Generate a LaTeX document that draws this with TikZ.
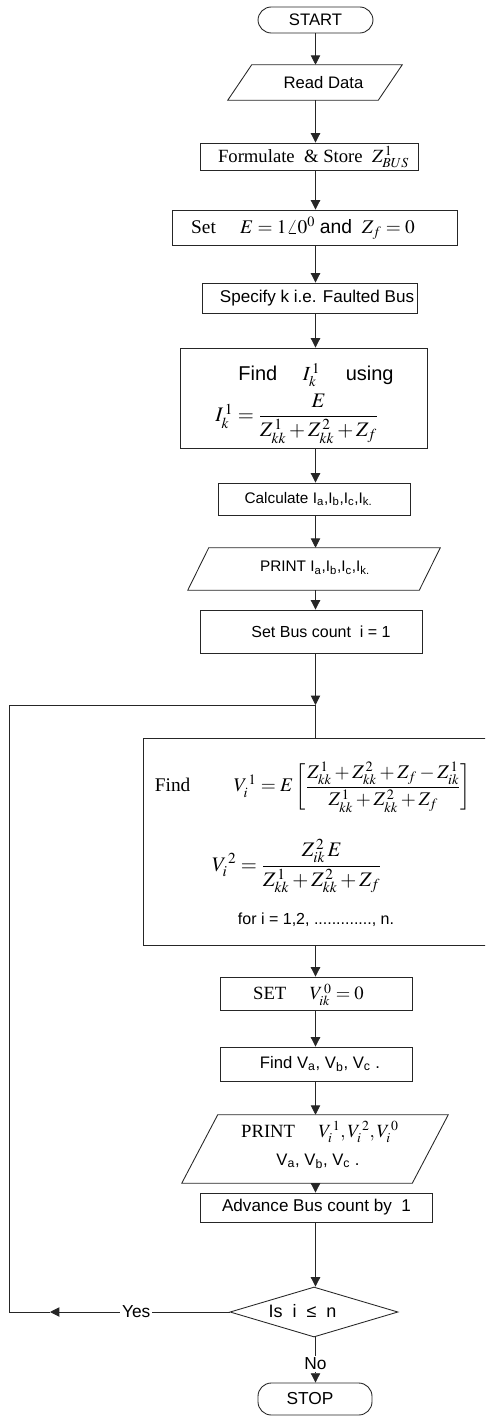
\documentclass[tikz,border=0pt]{standalone}
\usepackage{amsmath}
\usepackage{mathptmx}
\usepackage{fontspec}
\setmainfont{Liberation Serif}
\setsansfont{Liberation Sans}
\usetikzlibrary{arrows.meta,shapes.geometric}
\newcommand\pxu{0.75pt}
\newcommand\iopath[2]{\draw[ln] ([xshift=#2*\pxu]#1.north west) -- (#1.north east) -- ([xshift=-#2*\pxu]#1.south east) -- (#1.south west) -- cycle;}
\tikzset{
  ln/.style={line width=0.65pt, draw=black!85},
  box/.style={ln, rectangle, inner sep=0pt},
  term/.style={ln, rectangle, rounded corners=10pt, inner sep=0pt},
  io/.style={rectangle, inner sep=0pt},
  dia/.style={ln, diamond, inner sep=0pt, aspect=3.4},
  txt/.style={inner sep=0pt, align=center},
  sf/.style={font=\sffamily\fontsize{#1}{#1}\selectfont},
  rm/.style={font=\rmfamily\fontsize{#1}{#1}\selectfont},
  arr/.style={ln, -{Triangle[length=7pt,width=7pt]}},
  lbl/.style={fill=white, inner sep=1.5pt, font=\sffamily\fontsize{13pt}{15pt}\selectfont},
}
\begin{document}
\begin{tikzpicture}[x=0.75pt,y=-0.75pt]
\useasboundingbox (0,0) rectangle (485,1419);
\clip (0,0) rectangle (485,1419);
% shapes
\node[term, minimum width=115*\pxu, minimum height=26*\pxu] (start) at (315.5,20) {};
\node[io, minimum width=174*\pxu, minimum height=35*\pxu] (read) at (315,82.5) {};
\iopath{read}{24}
\node[box, minimum width=218*\pxu, minimum height=27*\pxu] (form) at (309,156.5) {};
\node[box, minimum width=285*\pxu, minimum height=35*\pxu] (sete) at (314.5,227.5) {};
\node[box, minimum width=215*\pxu, minimum height=30*\pxu] (spec) at (309.5,298) {};
\node[box, minimum width=247*\pxu, minimum height=100*\pxu] (findi) at (303.5,398) {};
\node[box, minimum width=192*\pxu, minimum height=32*\pxu] (calc) at (314,499) {};
\node[io, minimum width=252*\pxu, minimum height=42*\pxu] (printi) at (314,569) {};
\iopath{printi}{21}
\node[box, minimum width=222*\pxu, minimum height=43*\pxu] (setbus) at (311,631.5) {};
\node[box, minimum width=352*\pxu, minimum height=207*\pxu] (findv) at (319,841.5) {};
\node[box, minimum width=192*\pxu, minimum height=33*\pxu] (setv) at (316,993.5) {};
\node[box, minimum width=192*\pxu, minimum height=34*\pxu] (findva) at (316,1064) {};
\node[io, minimum width=266*\pxu, minimum height=68*\pxu] (printv) at (315,1149) {};
\iopath{printv}{36}
\node[box, minimum width=232*\pxu, minimum height=29*\pxu] (adv) at (316,1207.5) {};
\node[dia, minimum width=168*\pxu, minimum height=50*\pxu] (dec) at (314,1312) {};
\node[term, minimum width=114*\pxu, minimum height=32*\pxu] (stop) at (315,1399) {};
% texts
\node[txt, sf=12.5pt] (tstart) at (315.5,20) {START};
\node[txt, sf=12.5pt] (tread) at (323.5,83) {Read Data};
\node[txt, rm=14pt] (tform) at (313.5,157) {Formulate \ \& Store \ $Z^{\,1}_{BUS}$};
\node[txt, rm=14.5pt] (tsete) at (303,228) {Set \quad $E = 1\angle 0^{0}$ {\sffamily and} \ $Z_{f} = 0$};
\node[txt, sf=12.8pt] (tspec) at (317,298) {Specify k i.e. Faulted Bus};
\node[txt, sf=15pt] (tfi1) at (316,375) {Find \quad $I^{\,1}_{k}$ \quad using};
\node[txt, rm=15.5pt] (tfi2) at (297,419) {$I^{\,1}_{k} = \dfrac{E}{Z^{\,1}_{kk} + Z^{\,2}_{kk} + Z_{f}}$};
\node[txt, sf=11.5pt] (tcalc) at (308.5,499) {Calculate I\textsubscript{a},I\textsubscript{b},I\textsubscript{c},I\textsubscript{k.}};
\node[txt, sf=11.5pt] (tprinti) at (315,568) {PRINT I\textsubscript{a},I\textsubscript{b},I\textsubscript{c},I\textsubscript{k.}};
\node[txt, sf=12pt] (tsetbus) at (321,632) {Set Bus count \ i = 1};
\node[txt, rm=14.5pt] (tfv1) at (313,787) {Find \qquad $V_{i}^{\,1} = E\left[\dfrac{Z^{\,1}_{kk} + Z^{\,2}_{kk} + Z_{f} - Z^{\,1}_{ik}}{Z^{\,1}_{kk} + Z^{\,2}_{kk} + Z_{f}}\right]$};
\node[txt, rm=15.5pt] (tfv2) at (297,866) {$V_{i}^{\,2} = \dfrac{Z^{\,2}_{ik}\,E}{Z^{\,1}_{kk} + Z^{\,2}_{kk} + Z_{f}}$};
\node[txt, sf=12pt] (tfv3) at (316,920) {for i = 1,2, ............., n.};
\node[txt, rm=14pt] (tsetv) at (308.5,995) {SET \quad $V^{\,0}_{ik} = 0$};
\node[txt, sf=12.5pt] (tfindva) at (320,1064) {Find V\textsubscript{a}, V\textsubscript{b}, V\textsubscript{c} .};
\node[txt, rm=14pt] (tpv1) at (320,1132) {PRINT \quad $V_{i}^{\,1}, V_{i}^{\,2}, V_{i}^{\,0}$};
\node[txt, sf=12.5pt] (tpv2) at (318,1161) {V\textsubscript{a}, V\textsubscript{b}, V\textsubscript{c} .};
\node[txt, sf=12.8pt] (tadv) at (316.5,1207) {Advance Bus count by \ 1};
\node[txt, sf=13.5pt] (tdec) at (302.5,1311) {Is \ i \ ≤ \ n};
\node[txt, sf=13pt] (tstop) at (310,1399) {STOP};
% connectors
\coordinate (j) at (315.5,705);
\coordinate (lt) at (9,705);
\coordinate (lb) at (9,1312);
\coordinate (ya) at (50,1312);
\draw[arr] (start.south) -- (start.south |- read.north);
\draw[arr] (read.south -| start) -- (form.north -| start);
\draw[arr] (form.south -| start) -- (sete.north -| start);
\draw[arr] (sete.south -| start) -- (spec.north -| start);
\draw[arr] (spec.south -| start) -- (findi.north -| start);
\draw[arr] (findi.south -| start) -- (calc.north -| start);
\draw[arr] (calc.south -| start) -- (printi.north -| start);
\draw[arr] (printi.south -| start) -- (setbus.north -| start);
\draw[arr] (setbus.south -| start) -- (j);
\draw[ln] (j) -- (findv.north -| j);
\draw[arr] (findv.south -| start) -- (setv.north -| start);
\draw[arr] (setv.south -| start) -- (findva.north -| start);
\draw[arr] (findva.south -| start) -- (printv.north -| start);
\draw[arr] (printv.south -| start) -- (adv.north -| start);
\draw[arr] (adv.south -| start) -- (dec.north -| start);
\draw[arr] (dec.south -| start) -- node[lbl, pos=0.58] (no) {No} (stop.north -| start);
\draw[arr] (dec.west) -- node[lbl, pos=0.52] (yes) {Yes} (ya);
\draw[ln] (ya) -- (lb) -- (lt) -- (j);
\end{tikzpicture}
\end{document}
